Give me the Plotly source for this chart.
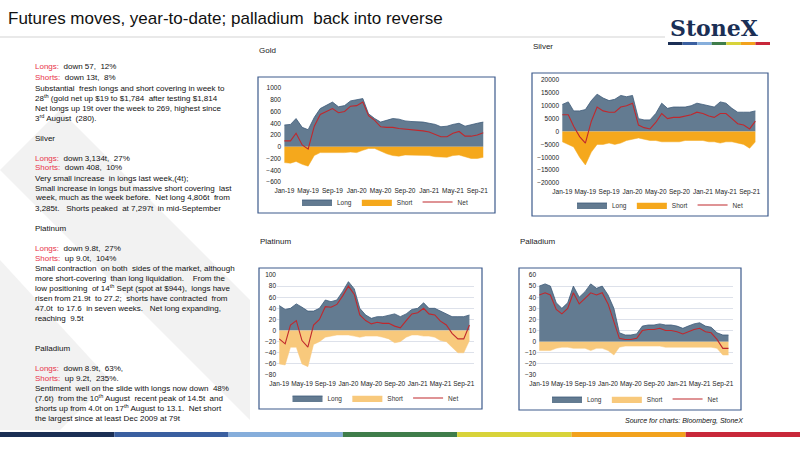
import plotly.graph_objects as go

months = [f"{y}-{m:02d}-01" for y in (2019, 2020, 2021) for m in range(1, 13)][:34]

gold_long = [370,380,480,330,290,500,650,700,760,680,700,780,800,820,560,480,420,450,480,470,440,430,430,420,400,380,340,350,380,400,350,380,400,420]
gold_short = [-270,-280,-250,-300,-330,-150,-100,-100,-110,-100,-100,-90,-100,-60,-30,-30,-80,-120,-150,-160,-140,-140,-140,-150,-150,-170,-170,-180,-150,-140,-170,-200,-200,-180]
silver_long = [10500,11500,8000,8000,8500,12000,14500,13000,12000,12500,14000,13500,14000,5000,4500,4500,7000,11000,9000,9500,9500,9500,10000,11000,10500,10000,9500,11500,11000,9000,7500,7500,7500,8000]
silver_short = [-4000,-5000,-6000,-10000,-13000,-8000,-5000,-5000,-4500,-5000,-4500,-3500,-3000,-2500,-3000,-3500,-3500,-4000,-4000,-4000,-4000,-3500,-3500,-3500,-3500,-4000,-4000,-4500,-4000,-4000,-4500,-5000,-6500,-4000]
plat_long = [45,38,40,48,42,35,35,40,55,52,55,70,88,75,40,28,22,25,25,28,30,25,30,38,40,50,40,40,35,30,25,25,25,28]
plat_short = [-60,-62,-30,-30,-60,-65,-25,-20,-12,-10,-8,-8,-8,-10,-12,-10,-10,-10,-12,-15,-22,-20,-12,-8,-8,-10,-10,-12,-18,-20,-30,-40,-40,-18]
pall_long = [50,52,50,35,30,35,50,40,45,52,48,50,42,30,8,6,6,7,14,15,15,16,15,15,14,12,14,16,17,14,13,8,6,6]
pall_short = [-8,-8,-8,-6,-5,-5,-6,-6,-6,-8,-6,-6,-8,-12,-5,-4,-4,-4,-4,-4,-4,-4,-5,-5,-5,-5,-5,-5,-5,-5,-5,-6,-12,-12]

W, H = 800, 450
def px(x): return x / W
def py(y): return 1 - y / H

panels = [
    ("Gold", gold_long, gold_short, "#f5a81c", 282, 488, 88, 182, [-600, 1000], 200, False, (258, 77, 495, 213)),
    ("Silver", silver_long, silver_short, "#f5a81c", 560, 760, 80, 183, [-20000, 20000], 5000, False, (532, 73, 768, 216)),
    ("Platinum", plat_long, plat_short, "#f8c97c", 277, 474, 275, 375, [-80, 100], 20, True, (259, 268, 482, 409)),
    ("Palladium", pall_long, pall_short, "#f8c97c", 537, 733, 275, 375, [-30, 60], 10, True, (519, 268, 741, 410)),
]

fig = go.Figure()
shapes, annos = [], []
layout = {}
for i, (name, lg, sh, scol, x0, x1, y0, y1, rng, dt, grid, box) in enumerate(panels):
    n = i + 1
    xa = "x" if n == 1 else f"x{n}"
    ya = "y" if n == 1 else f"y{n}"
    leg = "legend" if n == 1 else f"legend{n}"
    net = [a + b for a, b in zip(lg, sh)]
    fig.add_trace(go.Scatter(x=months, y=lg, name="Long", fill="tozeroy", mode="lines",
                             line=dict(color="#3d5a78", width=0.8), fillcolor="#637b91",
                             xaxis=xa, yaxis=ya, legend=leg))
    fig.add_trace(go.Scatter(x=months, y=sh, name="Short", fill="tozeroy", mode="lines",
                             line=dict(color=scol, width=0.5), fillcolor=scol,
                             xaxis=xa, yaxis=ya, legend=leg))
    fig.add_trace(go.Scatter(x=months, y=net, name="Net", mode="lines",
                             line=dict(color="#c0282d", width=1.1),
                             xaxis=xa, yaxis=ya, legend=leg))
    layout["xaxis" if n == 1 else f"xaxis{n}"] = dict(
        domain=[px(x0), px(x1)], anchor=ya, type="date", tickformat="%b-%y",
        tickvals=["2019-01-01","2019-05-01","2019-09-01","2020-01-01","2020-05-01","2020-09-01","2021-01-01","2021-05-01","2021-09-01"],
        range=["2018-12-20", "2021-10-25"], showgrid=False, tickfont=dict(size=6.5, color="#222"),
        showline=False, ticks="", tickangle=0, automargin=False, ticklabelstandoff=3)
    layout["yaxis" if n == 1 else f"yaxis{n}"] = dict(
        domain=[py(y1), py(y0)], anchor=xa, range=rng, dtick=dt, showgrid=grid, tickformat="d",
        gridcolor="#dde1ea", zeroline=True, zerolinecolor="#ffffff", zerolinewidth=1,
        tickfont=dict(size=6.5, color="#222"), ticks="", showline=False, automargin=False)
    layout[leg] = dict(orientation="h", x=(px(x0) + px(x1)) / 2, xanchor="center",
                       y=py(box[3] - 11), yanchor="middle", font=dict(size=6.5, color="#333"),
                       bgcolor="rgba(0,0,0,0)", itemwidth=30, tracegroupgap=0)
    bx0, by0, bx1, by1 = box
    shapes.append(dict(type="rect", xref="paper", yref="paper", x0=px(bx0), x1=px(bx1),
                       y0=py(by1), y1=py(by0), line=dict(color="#3c5a8c", width=1.2)))
    annos.append(dict(text=name, x=px(bx0 - 1), y=py(box[1] - 27), xref="paper", yref="paper",
                      xanchor="left", yanchor="middle", showarrow=False,
                      font=dict(size=8, color="#222")))

shapes.append(dict(type="path", xref="paper", yref="paper",
                   path=f"M {px(0)} {py(170)} L {px(60)} {py(110)} L {px(250)} {py(300)} L {px(250)} {py(420)} Z",
                   fillcolor="#f2f2f2", line=dict(width=0), layer="below"))
shapes.append(dict(type="path", xref="paper", yref="paper",
                   path=f"M {px(0)} {py(260)} L {px(110)} {py(380)} L {px(60)} {py(430)} L {px(0)} {py(430)} Z",
                   fillcolor="#f2f2f2", line=dict(width=0), layer="below"))
shapes.append(dict(type="line", xref="paper", yref="paper", x0=px(0), x1=px(665), y0=py(37), y1=py(37),
                   line=dict(color="#c8c8c8", width=0.8)))
stripe = ["#1b2f55", "#3a5fa0", "#86aedb", "#3f7d4a", "#d8d33a", "#f2a21d", "#c8283a"]
for j, c in enumerate(stripe):
    w = (770 - 668) / 7
    shapes.append(dict(type="rect", xref="paper", yref="paper", x0=px(668 + j * w), x1=px(668 + (j + 1) * w),
                       y0=py(45), y1=py(42), fillcolor=c, line=dict(width=0)))
    w2 = 800 / 7
    shapes.append(dict(type="rect", xref="paper", yref="paper", x0=px(j * w2), x1=px((j + 1) * w2),
                       y0=py(437), y1=py(432), fillcolor=c, line=dict(width=0)))

def note(t, x, y, **kw):
    d = dict(text=t, x=px(x), y=py(y), xref="paper", yref="paper", xanchor="left",
             yanchor="middle", showarrow=False, font=dict(size=8, color="#111", family="Liberation Sans"))
    d.update(kw)
    annos.append(d)

note("Futures moves, year-to-date; palladium  back into reverse", 6, 18,
     font=dict(size=17, color="#111", family="Liberation Sans"))
note("<b>StoneX</b>", 668, 28, font=dict(size=22, color="#1b2f55", family="DejaVu Serif"))
R = "#e8334a"
lines = [
    (67, f"<span style='color:{R}'>Longs:</span>  down 57,  12%"),
    (77, f"<span style='color:{R}'>Shorts:</span>  down 13t,  8%"),
    (88, "Substantial  fresh longs and short covering in week to"),
    (98, "28<sup>th</sup> (gold net up $19 to $1,784  after testing $1,814"),
    (108, "Net longs up 19t over the week to 269, highest since"),
    (118, "3<sup>rd</sup> August  (280)."),
    (138, "Silver"),
    (158, f"<span style='color:{R}'>Longs:</span>  down 3,134t,  27%"),
    (168, f"<span style='color:{R}'>Shorts:</span>  down 408,  10%"),
    (178, "Very small increase  in longs last week,(4t);"),
    (188, "Small increase in longs but massive short covering  last"),
    (198, "week, much as the week before.  Net long 4,806t  from"),
    (208, "3,285t.   Shorts peaked  at 7,297t  in mid-September"),
    (228, "Platinum"),
    (248, f"<span style='color:{R}'>Longs:</span>  down 9.8t,  27%"),
    (258, f"<span style='color:{R}'>Shorts:</span>  up 9.0t,  104%"),
    (268, "Small contraction  on both  sides of the market, although"),
    (278, "more short-covering  than long liquidation.    From the"),
    (288, "low positioning  of 14<sup>th</sup> Sept (spot at $944),  longs have"),
    (298, "risen from 21.9t  to 27.2;  shorts have contracted  from"),
    (308, "47.0t  to 17.6  in seven weeks.   Net long expanding,"),
    (318, "reaching  9.5t"),
    (348, "Palladium"),
    (368, f"<span style='color:{R}'>Longs:</span>  down 8.9t,  63%,"),
    (378, f"<span style='color:{R}'>Shorts:</span>  up 9.2t,  235%."),
    (388, "Sentiment  well on the slide with longs now down  48%"),
    (398, "(7.6t)  from the 10<sup>th</sup> August  recent peak of 14.5t  and"),
    (408, "shorts up from 4.0t on 17<sup>th</sup> August to 13.1.  Net short"),
    (418, "the largest since at least Dec 2009 at 79t"),
]
for y, t in lines:
    note(t, 33, y)
note("<i>Source for charts: Bloomberg, StoneX</i>", 745, 421, xanchor="right",
     font=dict(size=7, color="#111", family="Liberation Sans"))

fig.update_layout(width=W, height=H, margin=dict(l=0, r=0, t=0, b=0),
                  paper_bgcolor="white", plot_bgcolor="white", shapes=shapes,
                  annotations=annos, font=dict(family="Liberation Sans"), **layout)
fig.write_html("out.html", config={"displayModeBar": False},
               post_script="document.body.style.margin='0';document.body.style.overflow='hidden';")
